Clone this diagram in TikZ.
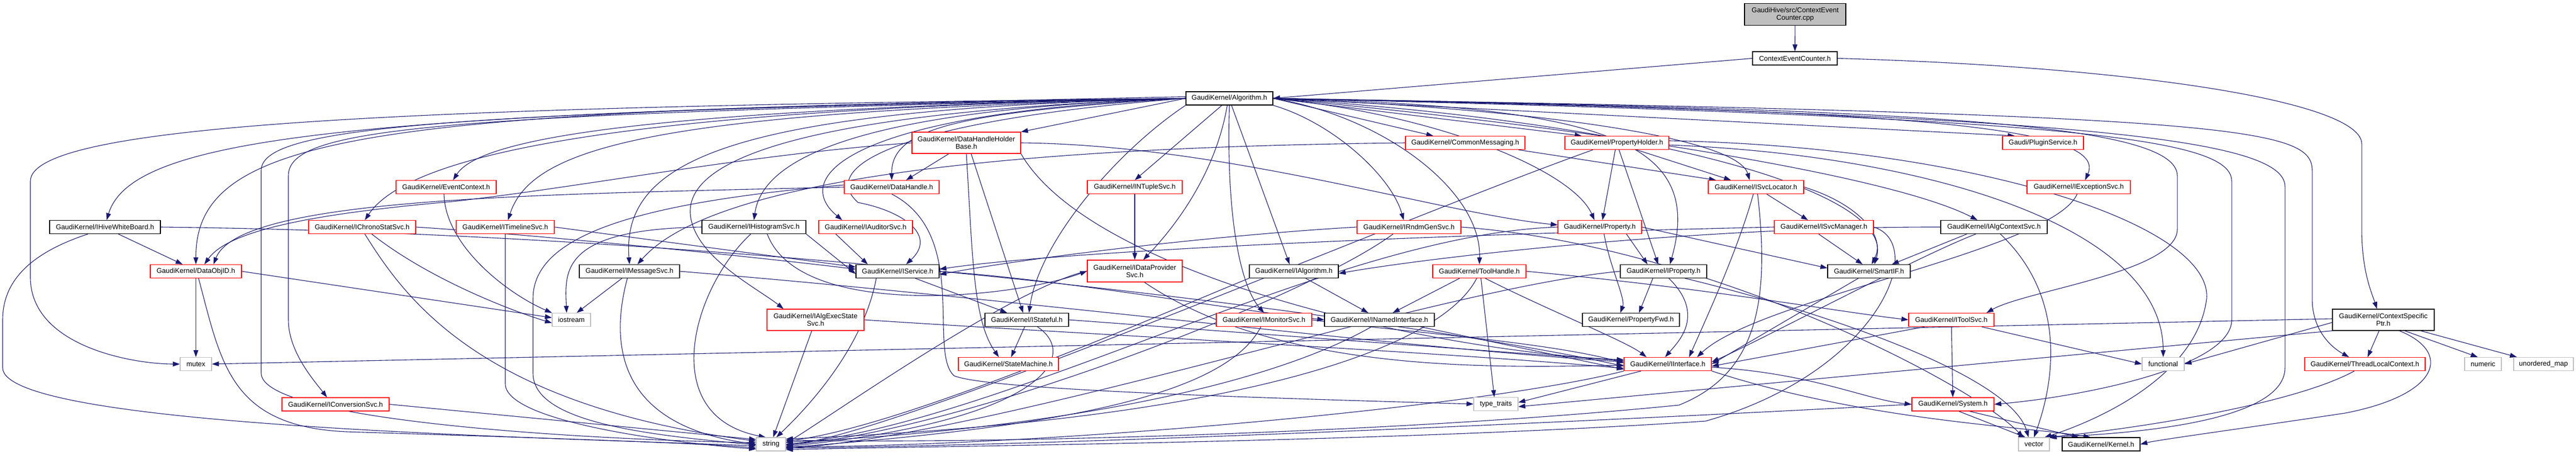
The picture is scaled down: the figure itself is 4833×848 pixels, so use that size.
\documentclass[tikz,border=0pt]{standalone}
\usepackage{fontspec}
\setmainfont{Liberation Sans}
\usetikzlibrary{arrows.meta}
\definecolor{edgeblue}{HTML}{191970}
\definecolor{lgray}{HTML}{BFBFBF}
\pgfdeclarelayer{back}
\pgfdeclarelayer{bg}
\pgfsetlayers{back,bg,main}
\tikzset{
  box/.style={rectangle, inner sep=0pt, minimum height=25pt, fill=white, align=center,
              font=\fontsize{13}{14}\selectfont, line width=1.2pt},
  nb/.style={box, draw=black},
  nr/.style={box, draw=red},
  ng/.style={box, draw=lgray},
  nroot/.style={box, draw=black, fill=lgray},
  e/.style={draw=edgeblue, line width=1.1pt, -{Triangle[length=13pt,width=9pt]}}
}
\begin{document}
\begin{tikzpicture}[x=1pt,y=-1pt]
\begin{pgfonlayer}{back}
\fill[white] (0,0) rectangle (4833,848);
\end{pgfonlayer}
\useasboundingbox (0,0) rectangle (4833,848);

% ---------- nodes ----------
\node[nroot, minimum width=190pt, minimum height=41pt] (cpp) at (3368,27) {GaudiHive/src/ContextEvent\\Counter.cpp};
\node[nb, minimum width=159pt] (ceh) at (3367.5,109.5) {ContextEventCounter.h};
\node[nb, minimum width=163pt] (alg) at (2306.5,184.5) {GaudiKernel/Algorithm.h};
\node[nr, minimum width=204pt, minimum height=40pt] (dhhb) at (1813,268) {GaudiKernel/DataHandleHolder\\Base.h};
\node[nr, minimum width=224pt] (cmsg) at (2749,268) {GaudiKernel/CommonMessaging.h};
\node[nr, minimum width=195pt] (ph) at (3033.5,268) {GaudiKernel/PropertyHolder.h};
\node[nr, minimum width=152pt] (plug) at (3833,268) {Gaudi/PluginService.h};
\node[nr, minimum width=188pt] (evc) at (837,351) {GaudiKernel/EventContext.h};
\node[nr, minimum width=178pt] (dh) at (1673,351) {GaudiKernel/DataHandle.h};
\node[nr, minimum width=178pt] (ntup) at (2129,351) {GaudiKernel/INTupleSvc.h};
\node[nr, minimum width=179pt] (svcloc) at (3294.5,351) {GaudiKernel/ISvcLocator.h};
\node[nr, minimum width=194pt] (exc) at (3900,351) {GaudiKernel/IExceptionSvc.h};
\node[nb, minimum width=208pt] (hive) at (197,426) {GaudiKernel/IHiveWhiteBoard.h};
\node[nr, minimum width=201pt] (chrono) at (679.5,426) {GaudiKernel/IChronoStatSvc.h};
\node[nr, minimum width=184pt] (tl) at (948,426) {GaudiKernel/ITimelineSvc.h};
\node[nb, minimum width=195pt] (hist) at (1414.5,426) {GaudiKernel/IHistogramSvc.h};
\node[nr, minimum width=176pt] (aud) at (1624,426) {GaudiKernel/IAuditorSvc.h};
\node[nr, minimum width=195pt] (rndm) at (2643.5,426) {GaudiKernel/IRndmGenSvc.h};
\node[nr, minimum width=157pt] (prop) at (3001.5,426) {GaudiKernel/Property.h};
\node[nr, minimum width=186pt] (svcman) at (3422,426) {GaudiKernel/ISvcManager.h};
\node[nb, minimum width=200pt] (algctx) at (3741,426) {GaudiKernel/IAlgContextSvc.h};
\node[nr, minimum width=171pt] (doid) at (367.5,509) {GaudiKernel/DataObjID.h};
\node[nb, minimum width=188pt] (msg) at (1181,509) {GaudiKernel/IMessageSvc.h};
\node[nb, minimum width=156pt] (isvc) at (1684,509) {GaudiKernel/IService.h};
\node[nr, minimum width=178pt, minimum height=41pt] (dps) at (2129,508.5) {GaudiKernel/IDataProvider\\Svc.h};
\node[nb, minimum width=167pt] (ialg) at (2427.5,509) {GaudiKernel/IAlgorithm.h};
\node[nr, minimum width=175pt] (th) at (2775.5,509) {GaudiKernel/ToolHandle.h};
\node[nb, minimum width=162pt] (iprop) at (3121,509) {GaudiKernel/IProperty.h};
\node[nb, minimum width=155pt] (smart) at (3506.5,509) {GaudiKernel/SmartIF.h};
\node[ng, minimum width=72pt] (iostream) at (1072,600) {iostream};
\node[nr, minimum width=182pt, minimum height=40pt] (aes) at (1530,600) {GaudiKernel/IAlgExecState\\Svc.h};
\node[nb, minimum width=157pt] (stf) at (1926.5,600) {GaudiKernel/IStateful.h};
\node[nr, minimum width=179pt] (mon) at (2371.5,600) {GaudiKernel/IMonitorSvc.h};
\node[nb, minimum width=206pt] (nint) at (2588,600) {GaudiKernel/INamedInterface.h};
\node[nb, minimum width=182pt] (pfwd) at (3060,600) {GaudiKernel/PropertyFwd.h};
\node[nr, minimum width=160pt] (tsvc) at (3661,600) {GaudiKernel/IToolSvc.h};
\node[nb, minimum width=191pt, minimum height=40pt] (csp) at (4471.5,600) {GaudiKernel/ContextSpecific\\Ptr.h};
\node[ng, minimum width=59pt] (mutex) at (367.5,683) {mutex};
\node[nr, minimum width=188pt] (sm) at (1892,683) {GaudiKernel/StateMachine.h};
\node[nr, minimum width=164pt] (iint) at (3129,683) {GaudiKernel/IInterface.h};
\node[ng, minimum width=79pt] (functional) at (4058.5,683) {functional};
\node[nr, minimum width=226pt] (tlc) at (4437,683) {GaudiKernel/ThreadLocalContext.h};
\node[ng, minimum width=69pt] (numeric) at (4658.5,683) {numeric};
\node[ng, minimum width=112pt] (umap) at (4772,683) {unordered\_map};
\node[nr, minimum width=201pt] (conv) at (629.5,758.5) {GaudiKernel/IConversionSvc.h};
\node[ng, minimum width=83pt] (tt) at (2806.5,758) {type\_traits};
\node[nr, minimum width=154pt] (sys) at (3664,758.5) {GaudiKernel/System.h};
\node[ng, minimum width=55pt] (string) at (1446.5,833.5) {string};
\node[ng, minimum width=58pt] (vector) at (3816,833.5) {vector};
\node[nb, minimum width=146pt] (kern) at (3942,833.5) {GaudiKernel/Kernel.h};

% ---------- edges ----------
\begin{pgfonlayer}{bg}
\draw[e] (cpp) -- (ceh);
\draw[e] (ceh.west) -- (alg.east);
\draw[e] (ceh.east) .. controls (4000,125) and (4431,190) .. (4431,270) -- (4431,430) .. controls (4431,510) and (4450,550) .. ([xshift=-12pt]csp.north);

% Algorithm.h
\draw[e] ([yshift=3pt]alg.west) .. controls (700,212) and (250,250) .. ([xshift=3pt]hive.north);
\draw[e] (alg.west) .. controls (800,200) and (57,230) .. (57,340) -- (57,520) .. controls (57,650) and (250,683) .. (mutex.west);
\draw[e] (alg.west) .. controls (700,205) and (367,250) .. (doid.north);
\draw[e] (alg.west) .. controls (800,215) and (541,240) .. (541,330) -- (541,600) .. controls (541,660) and (590,715) .. ([xshift=-16pt]conv.north);
\draw[e] (alg.west) .. controls (800,210) and (490,240) .. (490,320) -- (490,700) .. controls (490,790) and (1100,825) .. ([yshift=3pt]string.west);
\draw[e] (alg.west) .. controls (1100,205) and (760,300) .. ([xshift=5pt]chrono.north);
\draw[e] (alg.west) .. controls (1200,205) and (900,260) .. ([xshift=13pt]evc.north);
\draw[e] (alg.west) .. controls (1250,210) and (1000,270) .. ([xshift=5pt]tl.north);
\draw[e] (alg.west) .. controls (1400,205) and (1165,290) .. (msg.north);
\draw[e] (alg.west) .. controls (1600,205) and (1430,300) .. (hist.north);
\draw[e] (alg.west) .. controls (1600,210) and (1480,330) .. ([xshift=-44pt]aud.north);
\draw[e] (alg.west) .. controls (1700,225) and (1530,310) .. (1610,380) .. controls (1690,395) and (1760,440) .. ([xshift=16pt]isvc.north);
\draw[e] (alg.west) .. controls (1800,210) and (1672,240) .. (dh.north);
\draw[e] (alg.west) -- (dhhb.north east);
\draw[e] (alg.west) .. controls (1500,210) and (1290,300) .. (1295,400) .. controls (1300,480) and (1420,540) .. ([xshift=-60pt]aes.north);
\draw[e] (alg.south west) .. controls (2100,280) and (1950,450) .. ([xshift=4pt]stf.north);
\draw[e] ([xshift=-14pt]alg.south) -- (ntup.north);
\draw[e] ([xshift=-4pt]alg.south) .. controls (2280,330) and (2200,430) .. ([xshift=16pt]dps.north);
\draw[e] ([xshift=4pt]alg.south) -- ([xshift=-8pt]ialg.north);
\draw[e] (alg.south) .. controls (2300,420) and (2330,540) .. (mon.north);
\draw[e] (alg.east) -- ([xshift=-60pt]cmsg.north);
\draw[e] (alg.south east) .. controls (2500,230) and (2610,330) .. ([xshift=-10pt]rndm.north);
\draw[e] (alg.east) .. controls (2600,220) and (2780,360) .. (th.north);
\draw[e] (alg.east) -- ([xshift=-66pt]ph.north);
\draw[e] (alg.east) .. controls (2700,215) and (2950,320) .. ([xshift=-10pt]prop.north);
\draw[e] (alg.east) .. controls (3000,200) and (3200,260) .. ([xshift=12pt]iprop.north);
\draw[e] (alg.east) .. controls (2900,205) and (3260,260) .. ([xshift=-12pt]svcloc.north);
\draw[e] (alg.east) .. controls (3100,230) and (3560,360) .. ([xshift=10pt]smart.north);
\draw[e] (alg.east) -- ([xshift=-53pt]plug.north);
\draw[e] (alg.east) .. controls (3500,205) and (3960,230) .. ([xshift=12pt]exc.north);
\draw[e] (alg.east) .. controls (3000,240) and (3550,330) .. ([xshift=-31pt]algctx.north);
\draw[e] (alg.east) .. controls (3600,205) and (4085,230) .. (4085,330) -- (4085,430) .. controls (4085,510) and (3800,545) .. ([xshift=66pt]tsvc.north);
\draw[e] (alg.east) .. controls (4200,215) and (4338,240) .. (4338,320) -- (4338,560) .. controls (4338,625) and (4380,655) .. ([xshift=-30pt]tlc.north);
\draw[e] (alg.east) .. controls (3900,215) and (4287,260) .. (4287,350) -- (4287,690) .. controls (4287,800) and (3950,815) .. (vector.north east);
\draw[e] (alg.east) .. controls (3900,220) and (4187,260) .. (4187,340) -- (4187,600) .. controls (4187,690) and (3900,745) .. (sys.east);

% IHiveWhiteBoard.h
\draw[e] ([xshift=25pt]hive.south) -- ([xshift=-25pt]doid.north);
\draw[e] ([xshift=-32pt]hive.south) .. controls (40,480) and (5,540) .. (5,600) -- (5,690) .. controls (5,800) and (1000,820) .. ([yshift=-3pt]string.west);
\draw[e] (hive.east) .. controls (1500,440) and (2700,610) .. ([yshift=-4pt]iint.west);

% DataObjID.h
\draw[e] (doid) -- (mutex);
\draw[e] ([xshift=5pt]doid.south) .. controls (415,680) and (430,800) .. (650,810) .. controls (900,818) and (1300,830) .. ([yshift=-7pt]string.west);
\draw[e] (doid.east) -- ([yshift=4pt]iostream.west);

% IChronoStatSvc.h
\draw[e] (chrono.east) .. controls (1000,440) and (1400,480) .. ([yshift=4pt]isvc.west);
\draw[e] ([xshift=5pt]chrono.south) .. controls (760,560) and (900,760) .. ([yshift=6pt]string.west);
\draw[e] ([xshift=18pt]chrono.south) .. controls (800,520) and (950,580) .. ([yshift=-6pt]iostream.west);

% IConversionSvc.h, EventContext.h, ITimelineSvc.h
\draw[e] (conv.east) -- ([yshift=9pt]string.west);
\draw[e] ([xshift=-4pt]evc.south) .. controls (835,460) and (950,550) .. (iostream.north west);
\draw[e] (tl.south) -- (948,720) .. controls (948,790) and (1250,830) .. ([yshift=-9pt]string.west);
\draw[e] (tl.east) -- ([yshift=8pt]isvc.west);

% IMessageSvc.h
\draw[e] ([xshift=-14pt]msg.south) -- ([xshift=10pt]iostream.north);
\draw[e] ([xshift=-4pt]msg.south) .. controls (1140,660) and (1170,800) .. (string.west);
\draw[e] (msg.east) .. controls (1900,560) and (2600,650) .. ([yshift=4pt]iint.west);

% IHistogramSvc.h
\draw[e] (hist.west) .. controls (1050,430) and (1060,510) .. ([xshift=-9pt]iostream.north);
\draw[e] ([xshift=-6pt]hist.south) .. controls (1300,540) and (1230,780) .. ([xshift=-10pt]string.north);
\draw[e] (hist.south east) -- ([yshift=-5pt]isvc.west);
\draw[e] ([xshift=25pt]hist.south) .. controls (1500,600) and (1900,560) .. (dps.west);

% IAuditorSvc.h
\draw[e] ([xshift=-56pt]aud.south) -- ([xshift=-56pt]isvc.north);

% DataHandle.h
\draw[e] (dh.west) .. controls (1000,365) and (450,370) .. ([xshift=33pt]doid.north);
\draw[e] ([yshift=4pt]dh.west) .. controls (1200,380) and (1000,440) .. (1000,560) -- (1000,700) .. controls (1000,790) and (1200,815) .. ([yshift=-1pt]string.west);
\draw[e] (dh.south) .. controls (1820,440) and (1740,660) .. (1790,705) .. controls (1850,730) and (2300,745) .. (tt.west);

% DataHandleHolderBase.h
\draw[e] ([xshift=-33pt]dhhb.south) -- ([xshift=27pt]dh.north);
\draw[e] (dhhb.west) .. controls (1400,290) and (1100,350) .. (850,378) .. controls (600,400) and (430,430) .. ([xshift=16pt]doid.north);
\draw[e] ([xshift=9pt]dhhb.south) -- ([xshift=-7pt]stf.north);
\draw[e] (dhhb.south) .. controls (1825,480) and (1825,600) .. ([xshift=-18pt]sm.north);
\draw[e] (dhhb.east) .. controls (2300,272) and (2700,400) .. ([yshift=4pt]prop.west);
\draw[e] (dhhb.south east) .. controls (2050,520) and (2700,660) .. ([yshift=8pt]iint.west);

% IService.h
\draw[e] ([xshift=33pt]isvc.south) -- ([xshift=-37pt]stf.north);
\draw[e] (isvc.east) .. controls (2000,525) and (2300,580) .. (nint.west);
\draw[e] ([xshift=-40pt]isvc.south) .. controls (1620,650) and (1520,760) .. ([xshift=10pt]string.north);

% IAlgExecStateSvc.h
\draw[e] ([xshift=-7pt]aes.south) -- ([xshift=4pt]string.north);
\draw[e] (aes.east) .. controls (2000,625) and (2700,660) .. ([yshift=-8pt]iint.west);

% IStateful.h
\draw[e] ([xshift=-4pt]stf.south) -- ([xshift=5pt]sm.north);
\draw[e] (stf.east) -- ([yshift=6pt]iint.west);
\draw[e] ([xshift=20pt]stf.south) .. controls (2030,670) and (1950,790) .. ([yshift=-4pt]string.east);

% INTupleSvc.h, IDataProviderSvc.h
\draw[e] (ntup) -- (dps);
\draw[e] (dps.west) .. controls (1900,540) and (1560,780) .. ([yshift=2pt]string.east);
\draw[e] ([xshift=18pt]dps.south) .. controls (2400,700) and (2800,690) .. ([yshift=-2pt]iint.west);

% IAlgorithm.h, IMonitorSvc.h, INamedInterface.h
\draw[e] ([xshift=22pt]ialg.south) -- ([xshift=-21pt]nint.north);
\draw[e] (ialg.south west) .. controls (2200,580) and (1700,800) .. ([yshift=6pt]string.east);
\draw[e] (mon.east) .. controls (2600,620) and (2900,640) .. ([yshift=2pt]iint.west);
\draw[e] ([xshift=-6pt]mon.south) .. controls (2300,740) and (2000,800) .. ([yshift=-6pt]string.east);
\draw[e] ([xshift=77pt]nint.south) -- ([yshift=-10pt]iint.west);
\draw[e] ([xshift=-15pt]nint.south) .. controls (2350,740) and (1900,810) .. ([yshift=4pt]string.east);

% CommonMessaging.h
\draw[e] (cmsg.west) .. controls (2000,275) and (1350,320) .. ([xshift=15pt]msg.north);
\draw[e] ([xshift=100pt]cmsg.south) -- ([xshift=-75pt]svcloc.north);

% PropertyHolder.h
\draw[e] ([xshift=-3pt]ph.south) -- ([xshift=5pt]prop.north);
\draw[e] ([xshift=4pt]ph.south) -- ([xshift=-10pt]iprop.north);
\draw[e] ([xshift=37pt]ph.south) -- ([xshift=-47pt]svcloc.north);
\draw[e] ([yshift=-4pt]ph.east) .. controls (3600,290) and (4058,420) .. (functional.north);
\draw[e] ([xshift=-45pt]ph.south) .. controls (2600,420) and (1700,810) .. ([yshift=-2pt]string.east);
\draw[e] ([yshift=4pt]ph.east) .. controls (3700,275) and (4150,420) .. (4140,560) .. controls (4120,720) and (3900,800) .. ([xshift=20pt]vector.north);

% Property.h, IProperty.h
\draw[e] ([xshift=8pt]prop.south) .. controls (3020,500) and (3050,560) .. ([xshift=-20pt]pfwd.north);
\draw[e] ([xshift=50pt]prop.south) -- ([xshift=-30pt]iprop.north);
\draw[e] (prop.west) .. controls (2500,440) and (1900,790) .. (string.east);
\draw[e] (prop.east) -- ([yshift=6pt]smart.west);
\draw[e] ([xshift=-20pt]iprop.south) -- ([xshift=15pt]pfwd.north);
\draw[e] ([xshift=10pt]iprop.south) .. controls (3200,590) and (3150,640) .. ([xshift=-5pt]iint.north);
\draw[e] (iprop.west) .. controls (2700,540) and (1900,810) .. ([yshift=-8pt]string.east);
\draw[e] ([xshift=40pt]iprop.south) .. controls (3400,580) and (3770,700) .. ([xshift=-10pt]vector.north);

% ISvcLocator.h, ISvcManager.h, SmartIF.h
\draw[e] ([xshift=20pt]svcloc.south) -- ([xshift=-30pt]svcman.north);
\draw[e] (svcloc.east) .. controls (3480,380) and (3540,440) .. ([xshift=5pt]smart.north);
\draw[e] ([xshift=-5pt]svcloc.south) .. controls (3260,470) and (3200,600) .. ([xshift=40pt]iint.north);
\draw[e] ([xshift=3pt]svcloc.south) .. controls (3320,560) and (3300,700) .. (3150,760) .. controls (2600,815) and (1800,833) .. ([yshift=8pt]string.east);
\draw[e] ([xshift=-10pt]svcman.south) -- ([xshift=-12pt]smart.north);
\draw[e] (svcman.west) .. controls (2700,440) and (2000,470) .. ([yshift=4pt]isvc.east);
\draw[e] (svcman.east) .. controls (3620,460) and (3520,700) .. (3200,790) .. controls (2600,830) and (1800,836) .. ([yshift=-10pt]string.east);
\draw[e] ([xshift=-20pt]smart.south) -- (iint.east);

% IAlgContextSvc.h, IExceptionSvc.h
\draw[e] (algctx.west) .. controls (3200,425) and (2700,480) .. ([yshift=-4pt]ialg.east);
\draw[e] ([xshift=-34pt]algctx.south) .. controls (3600,480) and (3300,640) .. ([yshift=4pt]iint.east);
\draw[e] ([xshift=12pt]algctx.south) .. controls (3870,550) and (3860,700) .. (vector.north);
\draw[e] ([xshift=-51pt]algctx.south) -- ([xshift=43pt]smart.north);
\draw[e] ([xshift=-3pt]exc.south) .. controls (3850,470) and (3300,560) .. ([xshift=55pt]iint.north);

% ToolHandle.h
\draw[e] ([xshift=-37pt]th.south) -- ([xshift=25pt]nint.north);
\draw[e] ([xshift=3pt]th.south) -- ([xshift=-3pt]tt.north);
\draw[e] ([xshift=11pt]th.south) .. controls (2900,580) and (3050,640) .. ([xshift=-40pt]iint.north);
\draw[e] ([xshift=-5pt]th.south) .. controls (2700,660) and (2300,790) .. ([yshift=10pt]string.east);
\draw[e] (th.east) .. controls (3200,540) and (3450,585) .. (tsvc.west);

% IRndmGenSvc.h
\draw[e] (rndm.west) .. controls (2300,440) and (1950,480) .. ([yshift=-6pt]isvc.east);
\draw[e] ([xshift=-30pt]rndm.south) .. controls (2450,560) and (1800,810) .. ([yshift=-1pt]string.east);
\draw[e] (rndm.east) .. controls (3200,460) and (3700,720) .. ([xshift=-20pt]vector.north);

% IToolSvc.h, System.h, IInterface.h
\draw[e] (tsvc) -- (sys);
\draw[e] ([xshift=-50pt]tsvc.south) -- ([yshift=-4pt]iint.east);
\draw[e] ([xshift=57pt]tsvc.south) -- (functional.west);
\draw[e] ([xshift=11pt]sys.south) -- ([xshift=-16pt]vector.north);
\draw[e] ([xshift=31pt]sys.south) -- ([xshift=-42pt]kern.north);
\draw[e] (sys.west) .. controls (3000,790) and (2000,836) .. ([yshift=-7pt]string.east);
\draw[e] ([yshift=-6pt]iint.east) .. controls (3400,700) and (3500,750) .. (sys.west);
\draw[e] ([xshift=-50pt]iint.south) -- ([yshift=3pt]tt.east);
\draw[e] (iint.south east) .. controls (3500,790) and (3800,800) .. ([xshift=-20pt]kern.north);
\draw[e] (iint.south west) .. controls (2800,760) and (2000,836) .. ([yshift=-5pt]string.east);

% ThreadLocalContext.h, ContextSpecificPtr.h
\draw[e] ([xshift=-20pt]tlc.south) .. controls (4300,760) and (4000,805) .. ([xshift=-4pt]vector.north east);
\draw[e] ([xshift=-8pt]csp.south) -- ([xshift=5pt]tlc.north);
\draw[e] ([xshift=40pt]csp.south) -- ([xshift=-10pt]numeric.north);
\draw[e] ([xshift=70pt]csp.south) -- ([xshift=-50pt]umap.north);
\draw[e] ([yshift=-5pt]csp.west) -- (functional.east);
\draw[e] ([yshift=2pt]csp.west) -- (mutex.east);
\draw[e] (csp.south west) -- ([yshift=-5pt]tt.east);
\draw[e] ([xshift=30pt]csp.south) .. controls (4600,660) and (4580,740) .. (4400,775) .. controls (4200,805) and (4050,825) .. (kern.east);
\end{pgfonlayer}
\end{tikzpicture}
\end{document}
